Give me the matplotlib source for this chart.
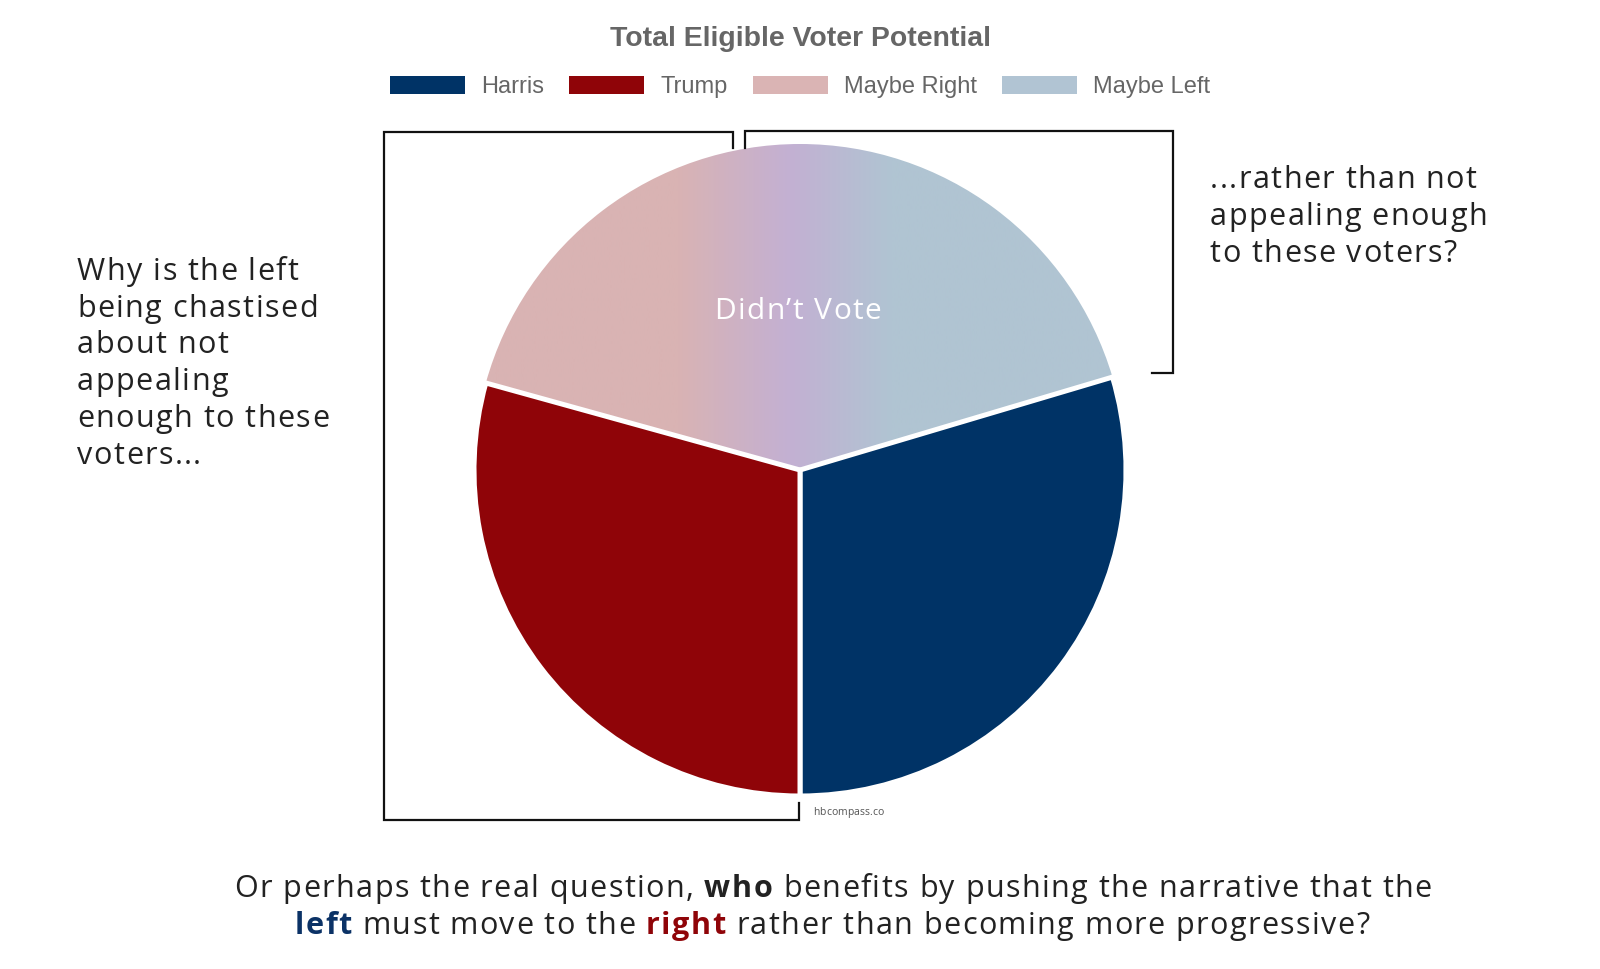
import numpy as np
import matplotlib.pyplot as plt
from matplotlib.colors import LinearSegmentedColormap
from matplotlib.font_manager import FontProperties, findfont
from matplotlib.ft2font import FT2Font

W, H = 1600, 969

# pie data, clockwise from 12 o'clock (shares in %)
slice_labels = ['Maybe Left', 'Harris', 'Trump', 'Maybe Right']
slice_shares = [20.4, 29.6, 29.3, 20.7]
legend_labels = ['Harris', 'Trump', 'Maybe Right', 'Maybe Left']
palette = {'Harris': '#003366', 'Trump': '#8f0408',
           'Maybe Right': '#dab4b4', 'Maybe Left': '#b1c4d3'}

left_note = ['Why is the left', 'being chastised', 'about not', 'appealing',
             'enough to these', 'voters...']
right_note = ['...rather than not', 'appealing enough', 'to these voters?']

text_dark = '#222222'
blue_word = '#0b3266'
red_word = '#8f0408'

fig = plt.figure(figsize=(16, 9.69), dpi=100)
ax = fig.add_axes([0, 0, 1, 1])


def advances(s, props, track):
    # glyph advances in pixels, plus letter spacing
    font = FT2Font(findfont(props))
    font.set_size(props.get_size_in_points(), 100)
    return [font.load_char(ord(c)).linearHoriAdvance / 65536 + track for c in s]


def draw_runs(x, y, runs, size, track=1.45, ha='left', family='Open Sans'):
    # runs = [(text, color, weight), ...]; y is the baseline in pixels from top
    pieces, total = [], 0
    for text, color, weight in runs:
        props = FontProperties(family=family, size=size, weight=weight)
        adv = advances(text, props, track)
        pieces.append((text, color, props, adv))
        total += sum(adv)
    total -= track
    if ha == 'center':
        x -= total / 2
    for text, color, props, adv in pieces:
        for c, a in zip(text, adv):
            if c != ' ':
                ax.text(x, H - y, c, fontproperties=props, color=color,
                        va='baseline', ha='left')
            x += a


# ---------------------------------------------------------------- pie
cx, cy, r = 800, H - 470, 326
wedges, _ = ax.pie(slice_shares, colors=[palette[l] for l in slice_labels],
                   startangle=90, counterclock=False, center=(cx, cy), radius=r,
                   wedgeprops=dict(edgecolor='white', linewidth=3.6))

grad_cmap = LinearSegmentedColormap.from_list(
    'didnt_vote', [(0, '#d9b3b3'), (0.31, '#d9b3b3'), (0.485, '#c3b0d3'),
                   (0.64, '#b0c4d2'), (1, '#b0c4d2')])
grad = np.linspace(0, 1, 600)[None, :]
for w, lab in zip(wedges, slice_labels):
    if lab.startswith('Maybe'):
        w.set_facecolor('none')
        w.set_edgecolor('none')
        w.set_zorder(1)
        im = ax.imshow(grad, cmap=grad_cmap, extent=(cx - r, cx + r, cy - r, cy + r),
                       aspect='auto', zorder=0.5, interpolation='bilinear')
        im.set_clip_path(w)
    else:
        w.set_zorder(3)

draw_runs(798, 319, [("Didn\u2019t Vote", 'white', 'normal')], 21.5, ha='center')
draw_runs(813, 815, [('hbcompass.co', '#555555', 'normal')], 7.5, track=0.1)

# ---------------------------------------------------------------- brackets
left_br = [(733, 148), (733, 132), (384, 132), (384, 820), (799, 820), (799, 803)]
right_br = [(745, 148), (745, 131), (1173, 131), (1173, 373), (1152, 373)]
for br in (left_br, right_br):
    xs, ys = zip(*br)
    ax.plot(xs, [H - y for y in ys], color='#111111', linewidth=1.6,
            solid_joinstyle='miter', zorder=4)

# ---------------------------------------------------------------- title + legend
ax.text(800, H - 46, 'Total Eligible Voter Potential', family='Liberation Sans',
        fontsize=20.4, fontweight='bold', color='#666666', ha='center', va='baseline')

leg_props = FontProperties(family='Liberation Sans', size=17)
box_w, box_h, box_gap, item_gap = 75, 18, 16, 25
text_w = [sum(advances(l, leg_props, 0)) for l in legend_labels]
total = sum(box_w + box_gap + t for t in text_w) + item_gap * (len(legend_labels) - 1)
x = 800 - total / 2
for lab, tw in zip(legend_labels, text_w):
    ax.add_patch(plt.Rectangle((x, H - 94), box_w, box_h, facecolor=palette[lab],
                               edgecolor='none'))
    ax.text(x + box_w + box_gap, H - 93, lab, fontproperties=leg_props,
            color='#666666', va='baseline', ha='left')
    x += box_w + box_gap + tw + item_gap

# ---------------------------------------------------------------- notes
for i, line in enumerate(left_note):
    draw_runs(77, 280 + i * 36.7, [(line, text_dark, 'normal')], 22)
for i, line in enumerate(right_note):
    draw_runs(1210, 188 + i * 37, [(line, text_dark, 'normal')], 22)

draw_runs(833, 897, [('Or perhaps the real question, ', text_dark, 'normal'),
                     ('who', text_dark, 'bold'),
                     (' benefits by pushing the narrative that the', text_dark, 'normal')],
          22, ha='center')
draw_runs(832, 934, [('left', blue_word, 'bold'),
                     (' must move to the ', text_dark, 'normal'),
                     ('right', red_word, 'bold'),
                     (' rather than becoming more progressive?', text_dark, 'normal')],
          22, ha='center')

ax.set_xlim(0, W)
ax.set_ylim(0, H)
ax.axis('off')

plt.savefig('out.png', dpi=100, facecolor='white')
